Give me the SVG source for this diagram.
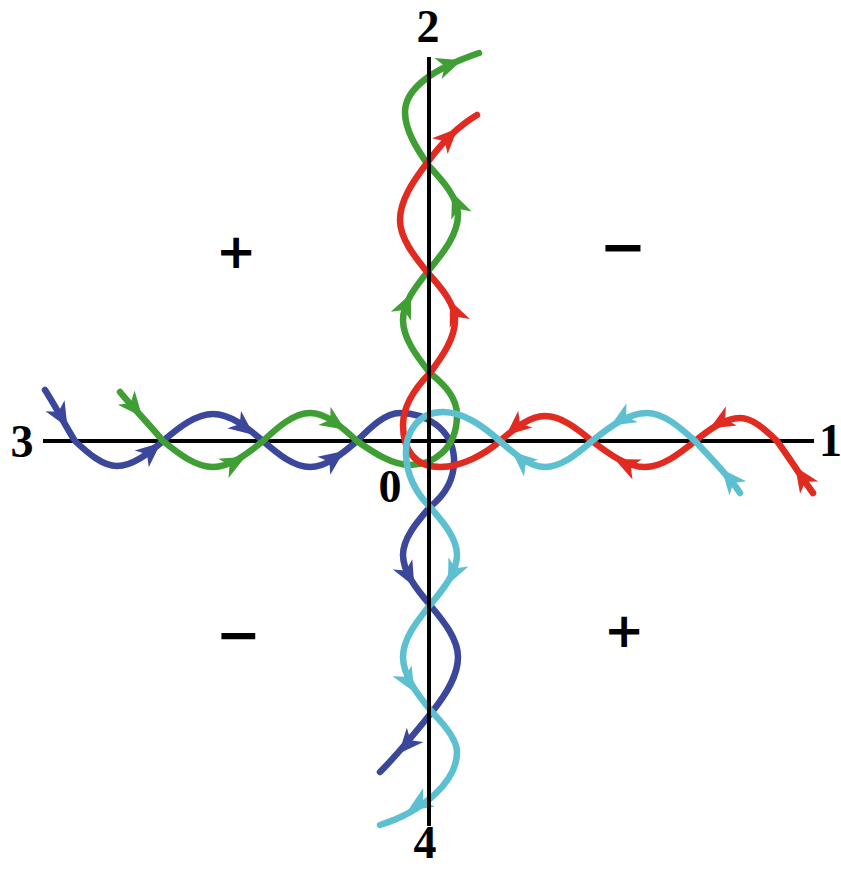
<svg xmlns="http://www.w3.org/2000/svg" xmlns:xlink="http://www.w3.org/1999/xlink" width="841" height="869" viewBox="0 0 841 869">
<style>
.axis{stroke:#000;stroke-width:4;fill:none}
.curve{fill:none;stroke-width:6.5;stroke-linecap:round;stroke-linejoin:round}
.num{font-family:"Liberation Serif","Times New Roman",serif;font-weight:bold;font-size:46px;fill:#000}
.sign{font-family:"DejaVu Sans",sans-serif;font-weight:bold;fill:#000}
.blue{stroke:#3a479b}.green{stroke:#3f9f34}.red{stroke:#e12a20}.cyan{stroke:#5dc0d1}
.fb{fill:#3a479b}.fg{fill:#3f9f34}.fr{fill:#e12a20}.fc{fill:#5dc0d1}
</style>
<defs>
<path id="ah" d="M5,0 L-20,-11 L-13,0 L-20,11 Z"/>
</defs>
<rect width="841" height="869" fill="#fff"/>
<g id="axis-h"><line class="axis" x1="43" y1="441" x2="814" y2="441"/></g>
<g id="connectors">
<g id="blue-curve">
<path class="curve blue" d="M45,390 C55,405 66,427 75,441 C88.7,453.8 102.7,466 117,466 C132.6,466 148,453.8 163,441 C179.3,427.2 196,414 213,414 C230,414 246.7,427.2 263,441 C278.3,454.3 294,467 310,467 C326,467 341.7,454.3 357,441 C371,426.7 385.4,413 400,413 C425,413 452,428 454,458 C455,480 445,495 430,507 C416.2,522.6 403,538.7 403,555 C403,572 416.2,588.7 430,605 C444.3,622 458,639.3 458,657 C458,675.7 446.3,694.1 432,712 C418,729 400,752 380,772"/>
<use xlink:href="#ah" class="fb" transform="translate(65,423) rotate(60)"/>
<use xlink:href="#ah" class="fb" transform="translate(157,446) rotate(-40)"/>
<use xlink:href="#ah" class="fb" transform="translate(250,432) rotate(38)"/>
<use xlink:href="#ah" class="fb" transform="translate(340,454) rotate(-36)"/>
<use xlink:href="#ah" class="fb" transform="translate(412,582) rotate(62)"/>
<use xlink:href="#ah" class="fb" transform="translate(402,750) rotate(131)"/>
</g>
<g id="green-curve">
<path class="curve green" d="M120,392 C133,408 150,425 163,441 C179.3,454.3 196,467 213,467 C230,467 246.7,454.3 263,441 C278.3,426.7 294,413 310,413 C326,413 341.7,426.7 357,441 C374.3,453.3 393,465 410,465 C432,465 457,450 457,415 C457,398 445,385 430,373 C416.2,355.7 403,338 403,320 C403,303 415.7,286.3 429,270 C443.8,252.1 458,233.7 458,215 C458,198 443.4,181.3 428,165 C416.2,147.7 405,130 405,112 C405,88 435,68 479,53"/>
<use xlink:href="#ah" class="fg" transform="translate(139,413) rotate(50)"/>
<use xlink:href="#ah" class="fg" transform="translate(241,459) rotate(-28)"/>
<use xlink:href="#ah" class="fg" transform="translate(341,427) rotate(34)"/>
<use xlink:href="#ah" class="fg" transform="translate(409,298) rotate(-66)"/>
<use xlink:href="#ah" class="fg" transform="translate(454,197) rotate(-112)"/>
<use xlink:href="#ah" class="fg" transform="translate(457,62) rotate(-19)"/>
</g>
<g id="red-curve">
<path class="curve red" d="M813,493 C800,475 788,456 777,441 C764.9,429.2 752.6,418 740,418 C724.7,418 709.7,429.2 695,441 C678.7,454.3 662,467 645,467 C627,467 609.3,454.3 592,441 C576.7,428.2 561,416 545,416 C529.7,416 514.7,428.2 500,441 C485,454 462,467 440,467 C415,467 403,450 403,425 C403,405 415,388 430,373 C442.8,355.7 455,338 455,320 C455,304 441.8,288.3 428,273 C413.7,255.7 400,238 400,220 C400,200.6 412.7,181.6 427,163 C440,145 455,128 477,115"/>
<use xlink:href="#ah" class="fr" transform="translate(798,471) rotate(-124)"/>
<use xlink:href="#ah" class="fr" transform="translate(714,426) rotate(150)"/>
<use xlink:href="#ah" class="fr" transform="translate(619,461) rotate(-155)"/>
<use xlink:href="#ah" class="fr" transform="translate(510,432) rotate(140)"/>
<use xlink:href="#ah" class="fr" transform="translate(452,305) rotate(-113)"/>
<use xlink:href="#ah" class="fr" transform="translate(454,132) rotate(-45)"/>
</g>
<g id="cyan-curve">
<path class="curve cyan" d="M740,493 C731,478 708,455 695,441 C679.4,426.7 663.3,413 647,413 C628.3,413 609.9,426.7 592,441 C576.7,454.3 561,467 545,467 C529.7,467 514.7,454.3 500,441 C485,428 465,412 443,412 C420,412 405,430 406,455 C407,478 418,495 430,507 C443.8,522.6 457,538.7 457,555 C457,572 443.8,588.7 430,605 C416.2,622 403,639.3 403,657 C403,675.7 417.2,694.1 432,712 C444.8,725 457,740 457,752 C457,782 422,812 380,825"/>
<use xlink:href="#ah" class="fc" transform="translate(725,473) rotate(-130)"/>
<use xlink:href="#ah" class="fc" transform="translate(615,423) rotate(149)"/>
<use xlink:href="#ah" class="fc" transform="translate(516,455) rotate(-139)"/>
<use xlink:href="#ah" class="fc" transform="translate(450,580) rotate(115)"/>
<use xlink:href="#ah" class="fc" transform="translate(412,688) rotate(60)"/>
<use xlink:href="#ah" class="fc" transform="translate(412,808) rotate(148)"/>
</g>
</g>
<g id="axis-v"><line class="axis" x1="429" y1="57" x2="429" y2="826"/></g>
<g id="labels">
<text class="num" x="428" y="42" text-anchor="middle">2</text>
<text class="num" x="22" y="457" text-anchor="middle">3</text>
<text class="num" x="819" y="456">1</text>
<text class="num" x="390" y="502" text-anchor="middle">0</text>
<text class="num" x="425" y="858" text-anchor="middle" font-size="44">4</text>
<text class="sign" x="236" y="268" font-size="48" text-anchor="middle">+</text>
<text class="sign" x="623" y="266" font-size="56" text-anchor="middle">−</text>
<text class="sign" x="238" y="653" font-size="54" text-anchor="middle">−</text>
<text class="sign" x="624" y="647" font-size="48" text-anchor="middle">+</text>
</g>
</svg>
